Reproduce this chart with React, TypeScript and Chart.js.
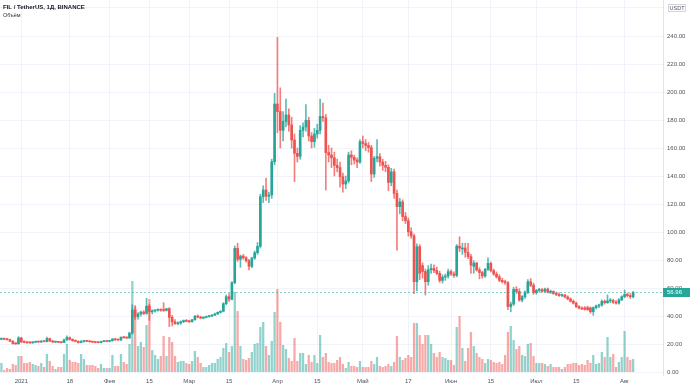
import React, { useEffect, useRef } from "react";
import { Chart, registerables } from "chart.js";

Chart.register(...registerables);

// ---- data (FIL / TetherUS, 1D, BINANCE), first candle 2020-12-25 ----
const startDate = "2020-12-25";
const totalSlots = 233; // days shown on the time axis (incl. empty right margin)

const opens = [
  23.3, 23.8, 23.4, 23.1, 22.0, 20.3, 20.1, 24.3, 21.5, 21.2, 20.9, 20.8, 21.3, 21.6, 21.4, 21.9, 21.7, 23.9, 22.2, 21.4,
  21.6, 21.2, 21.0, 22.9, 24.6, 23.3, 22.4, 21.9, 21.0, 21.8, 22.2, 21.9, 21.6, 21.3, 21.1, 21.0, 21.7, 21.9, 21.8, 22.3,
  23.5, 23.0, 22.8, 24.8, 24.5, 24.3, 27.8, 44.3, 39.5, 41.5, 42.8, 41.9, 47.1, 43.0, 43.6, 44.2, 44.5, 44.8, 44.0, 45.2,
  39.0, 35.8, 34.5, 35.0, 35.9, 36.8, 36.2, 35.9, 37.3, 40.0, 39.2, 38.5, 39.0, 39.6, 40.0, 40.6, 41.5, 42.6, 43.4, 48.8,
  53.8, 52.0, 63.8, 88.3, 80.5, 82.8, 81.6, 79.5, 75.5, 81.4, 85.2, 89.8, 125.2, 130.0, 125.5, 126.5, 150.2, 191.4, 186.0, 172.6,
  179.0, 183.6, 176.5, 165.7, 156.2, 154.0, 172.6, 175.0, 179.7, 168.6, 164.5, 170.0, 172.6, 182.5, 181.6, 156.7, 155.0, 153.0, 147.6, 146.0,
  139.5, 134.3, 136.5, 155.0, 153.3, 151.4, 150.0, 164.5, 163.2, 161.8, 160.3, 141.4, 152.6, 153.8, 150.0, 147.6, 146.2, 135.4, 143.0, 127.6,
  118.1, 121.5, 111.0, 108.0, 100.2, 97.2, 64.5, 89.5, 76.0, 71.8, 64.5, 73.0, 74.0, 72.5, 70.5, 65.4, 67.8, 68.5, 71.7, 70.0,
  69.0, 89.9, 87.8, 88.6, 85.5, 82.4, 75.5, 77.8, 72.9, 71.0, 68.6, 73.3, 77.6, 72.4, 70.0, 68.0, 65.5, 64.5, 63.8, 46.7,
  48.5, 59.0, 57.5, 51.4, 53.8, 57.0, 64.5, 62.0, 56.7, 58.3, 58.8, 57.6, 59.2, 57.0, 57.6, 56.0, 55.4, 54.6, 55.0, 53.6,
  52.2, 50.5, 49.2, 46.7, 45.6, 45.8, 46.0, 45.8, 43.1, 46.0, 47.2, 47.8, 50.5, 49.5, 50.8, 51.0, 49.8, 49.2, 51.6, 53.8,
  55.4, 54.5, 53.8,
];
const highs = [
  24.4, 24.2, 23.9, 23.5, 22.4, 20.9, 25.3, 24.8, 22.3, 21.8, 21.6, 21.7, 21.9, 22.0, 22.3, 22.2, 25.0, 24.2, 22.5, 21.9,
  21.9, 21.7, 23.5, 25.8, 25.0, 23.7, 22.9, 22.3, 22.4, 22.6, 22.6, 22.3, 22.0, 21.7, 21.5, 22.0, 22.2, 22.3, 22.6, 24.0,
  24.0, 23.6, 25.2, 25.3, 25.0, 28.5, 48.0, 47.5, 42.5, 43.5, 43.8, 52.6, 48.5, 44.5, 44.6, 45.0, 45.2, 49.5, 45.5, 46.0,
  40.5, 37.5, 35.8, 36.5, 37.2, 37.5, 37.0, 37.6, 40.5, 40.8, 39.8, 39.4, 40.0, 40.4, 41.0, 42.0, 43.0, 43.8, 49.5, 55.0,
  56.0, 64.5, 90.0, 92.0, 83.5, 84.0, 82.5, 80.5, 82.0, 86.5, 92.5, 127.0, 133.0, 138.5, 128.5, 152.0, 199.0, 239.0, 203.0, 186.0,
  195.0, 188.0, 182.0, 170.0, 160.0, 176.0, 178.0, 191.0, 182.0, 171.0, 174.0, 177.0, 195.0, 192.0, 184.0, 162.0, 160.0, 157.0, 152.0, 150.0,
  142.0, 140.0, 157.0, 158.0, 155.0, 153.0, 166.0, 168.6, 166.0, 164.0, 162.0, 154.0, 166.0, 156.0, 152.0, 150.5, 148.0, 145.5, 145.0, 130.0,
  124.0, 123.0, 114.0, 110.0, 103.0, 98.5, 91.5, 91.0, 78.0, 73.5, 76.0, 77.0, 76.5, 75.0, 72.0, 69.5, 70.0, 73.5, 73.0, 71.5,
  91.0, 96.6, 92.0, 92.0, 91.9, 84.0, 79.5, 78.5, 74.5, 72.0, 74.0, 81.5, 78.5, 73.5, 71.5, 69.5, 67.0, 65.7, 64.5, 50.0,
  60.5, 61.0, 59.5, 54.5, 58.0, 66.0, 66.8, 63.5, 59.0, 59.8, 59.5, 60.0, 60.0, 58.5, 58.0, 57.0, 56.5, 55.8, 55.5, 54.5,
  53.0, 51.5, 50.0, 47.5, 46.5, 46.8, 47.0, 46.5, 46.5, 47.8, 48.5, 51.5, 51.5, 55.0, 52.5, 52.0, 51.0, 52.5, 54.5, 58.6,
  56.5, 56.0, 57.5,
];
const lows = [
  23.0, 23.0, 22.8, 21.7, 19.9, 19.7, 20.0, 21.0, 20.8, 20.5, 20.4, 20.5, 20.9, 21.0, 21.1, 21.4, 21.5, 21.6, 21.0, 20.9,
  20.9, 20.8, 20.9, 22.5, 22.8, 22.0, 21.5, 20.6, 20.7, 21.3, 21.6, 21.3, 21.0, 20.8, 20.7, 20.8, 21.4, 21.5, 21.6, 22.1,
  22.6, 22.5, 22.6, 24.0, 23.9, 24.0, 27.0, 37.5, 37.8, 40.0, 41.0, 41.2, 37.0, 41.5, 42.8, 43.5, 43.4, 43.2, 43.5, 32.4,
  33.0, 34.0, 33.6, 34.0, 35.2, 35.8, 35.3, 35.6, 37.0, 38.6, 38.0, 37.9, 38.6, 39.2, 39.6, 40.2, 41.0, 42.0, 43.0, 48.0,
  50.5, 51.5, 63.0, 79.0, 74.8, 80.5, 78.5, 73.0, 74.5, 80.5, 84.0, 88.5, 121.0, 122.5, 121.0, 124.0, 148.0, 171.0, 160.0, 165.0,
  175.0, 172.0, 160.0, 136.0, 150.0, 152.0, 168.0, 172.0, 165.0, 160.0, 160.5, 167.0, 170.0, 179.0, 130.0, 150.0, 146.0, 140.0, 143.0, 132.0,
  128.5, 131.0, 135.0, 148.0, 148.5, 146.0, 149.0, 160.0, 158.0, 157.0, 136.0, 139.0, 150.0, 147.0, 144.0, 143.0, 129.5, 133.0, 124.0, 87.0,
  113.0, 108.0, 106.0, 97.0, 95.5, 56.0, 58.0, 66.0, 67.0, 55.0, 62.0, 70.5, 71.0, 69.5, 64.0, 63.5, 65.5, 67.0, 69.0, 67.5,
  68.0, 86.0, 84.0, 82.0, 81.0, 70.5, 70.5, 72.0, 66.5, 67.0, 67.5, 72.5, 71.5, 69.0, 67.0, 64.5, 63.5, 62.5, 44.5, 43.0,
  47.5, 56.0, 50.5, 50.0, 52.5, 56.0, 61.0, 55.5, 55.5, 57.0, 57.0, 57.0, 56.5, 56.0, 55.5, 54.5, 54.0, 53.8, 53.0, 51.5,
  50.0, 48.5, 46.0, 45.0, 44.5, 44.2, 44.0, 42.0, 40.5, 45.0, 46.0, 47.0, 48.5, 49.0, 49.5, 49.0, 48.5, 48.5, 51.0, 53.0,
  53.5, 52.5, 53.0,
];
const closes = [
  23.8, 23.4, 23.1, 22.0, 20.3, 20.1, 24.3, 21.5, 21.2, 20.9, 20.8, 21.3, 21.6, 21.4, 21.9, 21.7, 23.9, 22.2, 21.4, 21.6,
  21.2, 21.0, 22.9, 24.6, 23.3, 22.4, 21.9, 21.0, 21.8, 22.2, 21.9, 21.6, 21.3, 21.1, 21.0, 21.7, 21.9, 21.8, 22.3, 23.5,
  23.0, 22.8, 24.8, 24.5, 24.3, 27.8, 44.3, 39.5, 41.5, 42.8, 41.9, 47.1, 43.0, 43.6, 44.2, 44.5, 44.0, 44.0, 45.2, 39.0,
  35.8, 34.5, 35.0, 35.9, 36.8, 36.2, 35.9, 37.3, 39.8, 39.2, 38.5, 39.0, 39.6, 40.0, 40.6, 41.5, 42.6, 43.4, 48.8, 53.8,
  52.0, 63.8, 88.3, 80.5, 82.8, 81.6, 79.5, 75.5, 81.4, 85.2, 89.8, 125.2, 130.0, 125.5, 126.5, 150.2, 191.4, 186.0, 172.6, 179.0,
  183.6, 176.5, 165.7, 156.2, 154.0, 172.6, 175.0, 179.7, 168.6, 164.5, 170.0, 172.6, 182.5, 181.6, 156.7, 155.0, 153.0, 147.6, 146.0, 139.5,
  134.3, 136.5, 155.0, 153.3, 151.4, 150.0, 164.5, 163.2, 161.8, 160.3, 141.4, 152.6, 153.8, 150.0, 147.6, 146.2, 135.4, 143.0, 127.6, 118.1,
  121.5, 111.0, 108.0, 100.2, 97.2, 64.5, 89.5, 70.5, 71.8, 64.5, 73.0, 74.0, 72.5, 70.5, 65.4, 67.8, 68.5, 71.7, 70.0, 69.0,
  89.9, 88.5, 88.6, 85.5, 82.4, 76.4, 77.8, 72.9, 71.0, 68.6, 73.3, 77.6, 72.4, 70.0, 68.0, 65.5, 64.5, 63.8, 46.7, 48.5,
  59.0, 57.5, 51.4, 53.8, 57.0, 64.5, 62.0, 56.7, 58.3, 58.8, 57.6, 59.2, 57.0, 57.6, 56.0, 55.4, 54.6, 55.0, 53.6, 52.2,
  50.5, 49.2, 46.7, 45.6, 45.0, 44.8, 44.5, 43.1, 46.0, 47.2, 47.8, 50.5, 49.5, 50.8, 51.0, 49.8, 49.2, 51.6, 53.8, 55.4,
  54.5, 53.8, 56.96,
];
// volume, relative units
const volumes = [
  9, 2, 4, 3, 8, 7, 16, 16, 9, 9, 10, 8, 7, 6, 9, 5, 18, 11, 6, 3,
  5, 5, 18, 28, 12, 10, 10, 9, 18, 13, 7, 7, 7, 6, 4, 8, 4, 4, 4, 17,
  6, 6, 18, 10, 8, 28, 91, 65, 26, 30, 25, 47, 73, 22, 17, 13, 16, 36, 16, 35,
  30, 16, 10, 11, 11, 9, 8, 11, 21, 15, 9, 5, 5, 7, 9, 9, 13, 15, 24, 29,
  20, 26, 80, 61, 26, 13, 12, 14, 20, 28, 29, 45, 50, 26, 17, 31, 60, 83, 50, 27,
  23, 14, 11, 34, 11, 19, 19, 8, 17, 10, 17, 9, 37, 15, 19, 10, 9, 9, 12, 15,
  8, 4, 10, 6, 6, 5, 11, 5, 5, 5, 11, 8, 15, 6, 5, 6, 8, 6, 10, 36,
  15, 12, 14, 17, 15, 49, 49, 37, 28, 37, 37, 28, 19, 15, 20, 15, 14, 12, 12, 7,
  45, 56, 24, 11, 24, 40, 26, 19, 15, 13, 9, 13, 12, 10, 9, 10, 8, 17, 40, 46,
  32, 23, 26, 17, 16, 28, 29, 16, 9, 9, 9, 8, 6, 8, 5, 5, 5, 3, 5, 8,
  8, 9, 9, 7, 8, 7, 12, 9, 17, 8, 9, 20, 15, 35, 15, 18, 5, 10, 15, 41,
  15, 12, 13,
];

const tickDates = [
  "2021-01-01", "2021-01-18", "2021-02-01", "2021-02-15", "2021-03-01", "2021-03-15", "2021-04-01", "2021-04-15",
  "2021-05-01", "2021-05-17", "2021-06-01", "2021-06-15", "2021-07-01", "2021-07-15", "2021-08-01",
];
const tickTexts = ["2021", "18", "Фев", "15", "Мар", "15", "Апр", "15", "Май", "17", "Июн", "15", "Июл", "15", "Авг"];
const priceTicks = [0, 20, 40, 60, 80, 100, 120, 140, 160, 180, 200, 220, 240, 260];

const titleText = "FIL / TetherUS, 1Д, BINANCE";
const volumeText = "Объём";
const currencyText = "USDT";

const UP = "#26a69a";
const DOWN = "#ef5350";
const UP_VOL = "rgba(38,166,154,0.5)";
const DOWN_VOL = "rgba(239,83,80,0.5)";
const UP_WICK = "rgba(38,166,154,0.75)";
const DOWN_WICK = "rgba(239,83,80,0.75)";
const GRID = "#f0f3fa";
const TEXT = "#50535e";
const FONT = '"Liberation Sans", Arial, sans-serif';

export default function App() {
  const ref = useRef<HTMLCanvasElement | null>(null);

  useEffect(() => {
    if (!ref.current) return;
    const t0 = Date.parse(startDate + "T00:00:00Z");
    const labels: string[] = [];
    for (let i = 0; i < totalSlots; i++) {
      labels.push(new Date(t0 + i * 86400000).toISOString().slice(0, 10));
    }
    const tickMap = new Map<number, string>();
    tickDates.forEach((d, k) => tickMap.set(labels.indexOf(d), tickTexts[k]));

    const up = closes.map((c, i) => c >= opens[i]);
    const lastClose = closes[closes.length - 1];

    const overlay = {
      id: "tvOverlay",
      afterDatasetsDraw(chart: any) {
        const { ctx, chartArea, scales } = chart;
        const py = scales.y.getPixelForValue(lastClose);
        ctx.save();
        ctx.strokeStyle = "rgba(38,166,154,0.55)";
        ctx.lineWidth = 1;
        ctx.setLineDash([2, 2]);
        ctx.beginPath();
        ctx.moveTo(chartArea.left, Math.round(py) + 0.5);
        ctx.lineTo(chartArea.right, Math.round(py) + 0.5);
        ctx.stroke();
        ctx.setLineDash([]);
        ctx.restore();
      },
      afterDraw(chart: any) {
        const { ctx, chartArea, scales } = chart;
        const py = scales.y.getPixelForValue(lastClose);
        ctx.save();
        ctx.fillStyle = UP;
        ctx.fillRect(chartArea.right, Math.round(py) - 4, 27, 9);
        ctx.fillStyle = "#ffffff";
        ctx.font = `6px ${FONT}`;
        ctx.textBaseline = "middle";
        ctx.textAlign = "left";
        ctx.fillText(lastClose.toFixed(2), chartArea.right + 4, Math.round(py) + 0.5);
        ctx.strokeStyle = "#d1d4dc";
        ctx.lineWidth = 1;
        ctx.fillStyle = "#ffffff";
        ctx.fillRect(668.5, 4.5, 17, 7);
        ctx.strokeRect(668.5, 4.5, 17, 7);
        ctx.fillStyle = TEXT;
        ctx.font = `5.5px ${FONT}`;
        ctx.textAlign = "center";
        ctx.fillText(currencyText, 677, 8.2);
        ctx.textAlign = "left";
        ctx.fillStyle = "#131722";
        ctx.font = `bold 6px ${FONT}`;
        ctx.fillText(titleText, 3, 7.5);
        ctx.font = `5.5px ${FONT}`;
        ctx.fillStyle = "#2a2e39";
        ctx.fillText(volumeText, 3, 15.5);
        ctx.restore();
      },
    };

    const chart = new Chart(ref.current, {
      type: "bar",
      data: {
        labels,
        datasets: [
          {
            label: "Объём",
            data: volumes,
            yAxisID: "yv",
            backgroundColor: up.map((u) => (u ? UP_VOL : DOWN_VOL)),
            barPercentage: 0.8,
            categoryPercentage: 1,
            grouped: false,
            order: 3,
          } as any,
          {
            label: "wick",
            data: lows.map((l, i) => [l, highs[i]]),
            yAxisID: "y",
            backgroundColor: up.map((u) => (u ? UP_WICK : DOWN_WICK)),
            barThickness: 1,
            grouped: false,
            order: 2,
          } as any,
          {
            label: "body",
            data: opens.map((o, i) => [o, closes[i]]),
            yAxisID: "y",
            backgroundColor: up.map((u) => (u ? UP : DOWN)),
            barThickness: 2,
            minBarLength: 1,
            grouped: false,
            order: 1,
          } as any,
        ],
      },
      options: {
        responsive: false,
        animation: false,
        layout: { padding: 0 },
        plugins: { legend: { display: false }, tooltip: { enabled: false } },
        scales: {
          x: {
            type: "category",
            offset: true,
            grid: {
              offset: false,
              drawTicks: false,
              color: (c: any) => (tickMap.has(c.index) ? GRID : "rgba(0,0,0,0)"),
            },
            border: { display: false },
            ticks: {
              autoSkip: false,
              maxRotation: 0,
              minRotation: 0,
              padding: 3,
              color: TEXT,
              font: { size: 6, family: FONT },
              callback: (_v: any, i: number) => tickMap.get(i) ?? "",
            },
            afterFit: (s: any) => {
              s.height = 13;
              s.paddingLeft = 0;
              s.paddingRight = 0;
            },
          },
          y: {
            position: "right",
            min: -3 / 1.4,
            max: -3 / 1.4 + 375 / 1.4,
            grid: { color: GRID, drawTicks: false },
            border: { display: true, color: "#e0e3eb" },
            ticks: {
              padding: 4,
              color: TEXT,
              font: { size: 6, family: FONT },
              callback: (v: any) => (v === 260 ? "" : Number(v).toFixed(2)),
            },
            afterBuildTicks: (s: any) => {
              s.ticks = priceTicks.map((v) => ({ value: v }));
            },
            afterFit: (s: any) => {
              s.width = 27;
              s.paddingTop = 0;
              s.paddingBottom = 0;
            },
          },
          yv: { display: false, min: -3, max: 372 },
        },
      } as any,
      plugins: [overlay],
    });
    return () => chart.destroy();
  }, []);

  return (
    <div style={{ position: "fixed", left: 0, top: 0, width: 690, height: 388, background: "#fff" }}>
      <canvas ref={ref} width={690} height={388} style={{ display: "block" }} />
    </div>
  );
}
